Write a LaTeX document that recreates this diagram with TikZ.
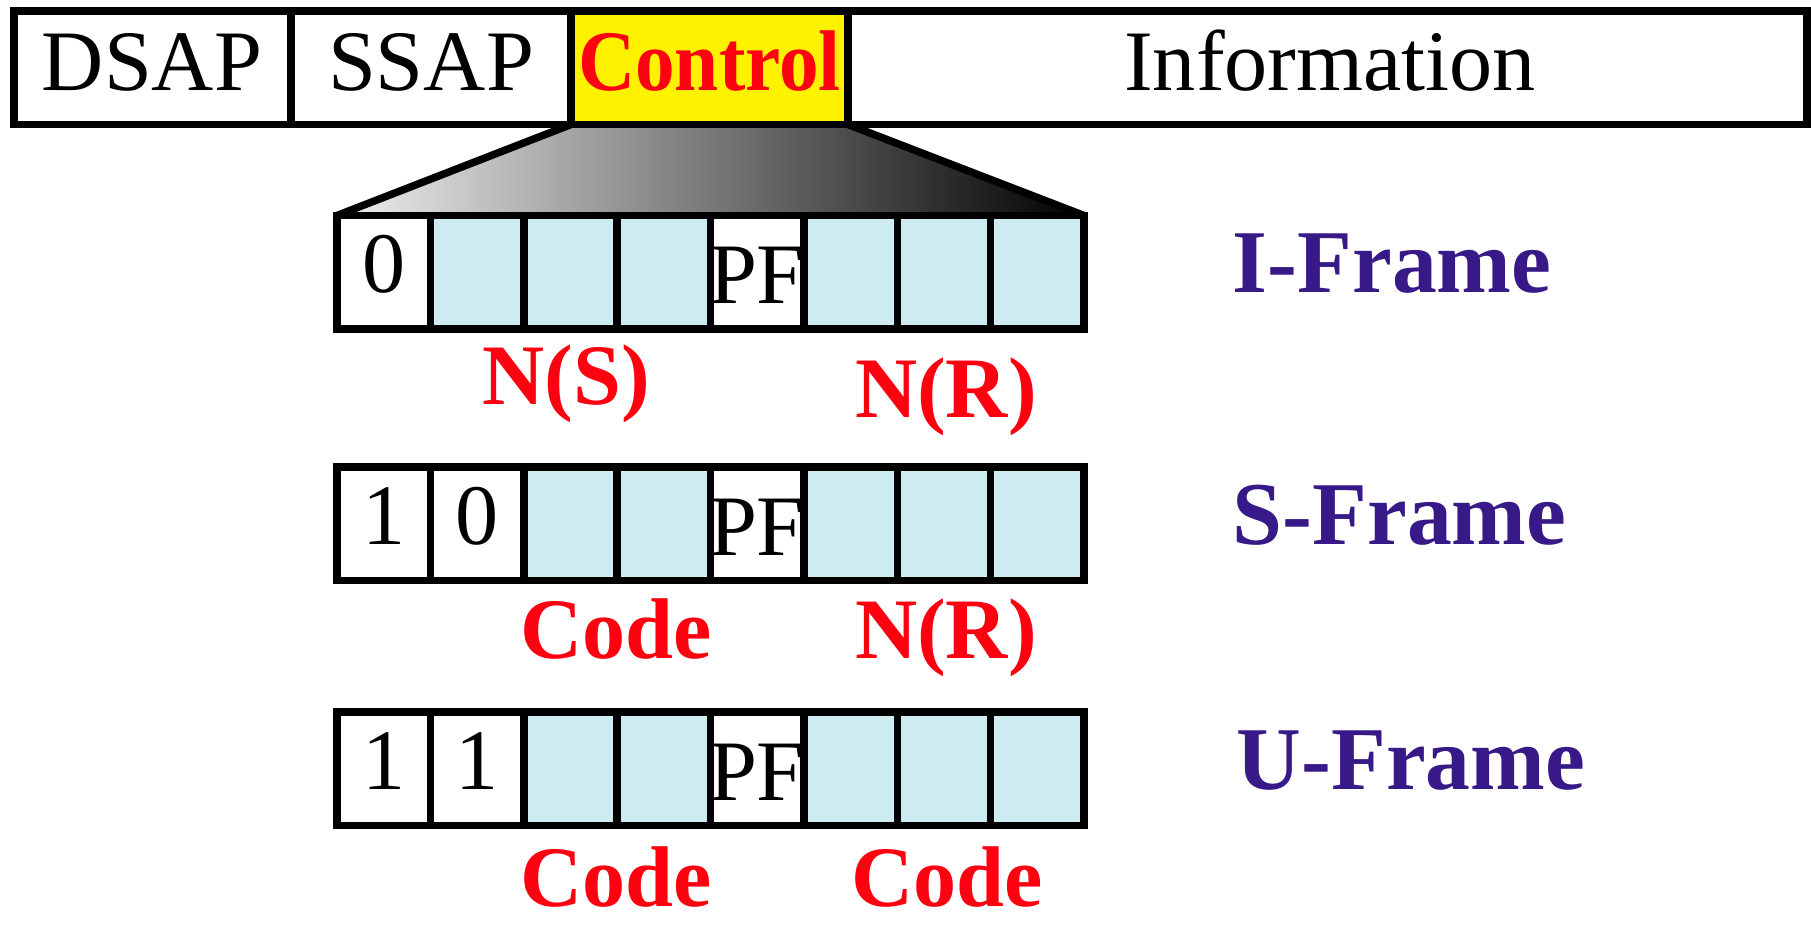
\documentclass[tikz,border=0pt]{standalone}
\usepackage{fontspec}
\setmainfont{Liberation Serif}

\definecolor{cellblue}{RGB}{204,236,242}
\definecolor{framepurple}{RGB}{55,25,135}
\definecolor{labelred}{RGB}{255,0,16}

\tikzset{
  box/.style={line width=0.075cm},
  plain/.style={font=\fontsize{24.5}{29}\selectfont, inner sep=0pt, anchor=base},
  redlbl/.style={font=\fontsize{24.5}{29}\selectfont\bfseries, text=labelred,
                 inner sep=0pt, anchor=base},
  framelbl/.style={font=\fontsize{25.5}{30}\selectfont\bfseries, text=framepurple,
                   inner sep=0pt, anchor=base west},
}

\begin{document}
\begin{tikzpicture}[x=0.01cm,y=-0.01cm]
\useasboundingbox (0,0) rectangle (1811,927);

% LLC header with the control field blown up
\fill[yellow] (571,11) rectangle (848,124.5);
\shade[left color=white!94!black, right color=black]
  (571,124.5) -- (848,124.5) -- (1084,215.5) -- (337,215.5) -- cycle;
\draw[box] (571,124.5) -- (337,215.5) (848,124.5) -- (1084,215.5);
\draw[box] (14,11) rectangle (1807,124.5);
\draw[box] (291,11) -- (291,124.5) (571,11) -- (571,124.5) (848,11) -- (848,124.5);
\node[plain]  (dsap) at (152,90)   {DSAP};
\node[plain]  (ssap) at (431,90)   {SSAP};
\node[redlbl] (ctrl) at (709.5,90) {\scalebox{0.92}[1]{Control}};
\node[plain]  (info) at (1330,90)  {Information};

% the three control field formats
\foreach \t/\c in {215.5/cellblue, 467/white, 712/white}{
  \fill[cellblue] (337,\t) rectangle +(747,113.5);
  \fill[white] (337,\t) rectangle +(93.4,113.5);
  \fill[\c] (430.4,\t) rectangle +(93.4,113.5);
  \fill[white] (710.5,\t) rectangle +(93.4,113.5);
}
\node[plain] (ibit1) at (383.7,292.5) {0};
\node[plain] (sbit1) at (383.7,544)   {1};
\node[plain] (sbit2) at (477,544)     {0};
\node[plain] (ubit1) at (383.7,789)   {1};
\node[plain] (ubit2) at (477,789)     {1};
\foreach \t/\rw in {215.5/i, 467/s, 712/u}{
  \node[plain] (\rw pf) at (757,\t+88) {PF};
  \draw[box] (337,\t) rectangle +(747,113.5);
  \foreach \k in {1,...,7}
    \draw[box] (337+93.375*\k,\t) -- +(0,113.5);
}

% field names under the bits
\node[redlbl] (ins) at (566,404) {N(S)};
\node[redlbl] (inr) at (946,417) {N(R)};
\node[redlbl] (scode) at (616,658) {Code};
\node[redlbl] (snr) at (946,658) {N(R)};
\node[redlbl] (ucode1) at (616,906) {Code};
\node[redlbl] (ucode2) at (947,906) {Code};

\node[framelbl] (iframe) at (1232,292.5) {I-Frame};
\node[framelbl] (sframe) at (1232,544)   {S-Frame};
\node[framelbl] (uframe) at (1236,789)   {U-Frame};
\end{tikzpicture}
\end{document}
